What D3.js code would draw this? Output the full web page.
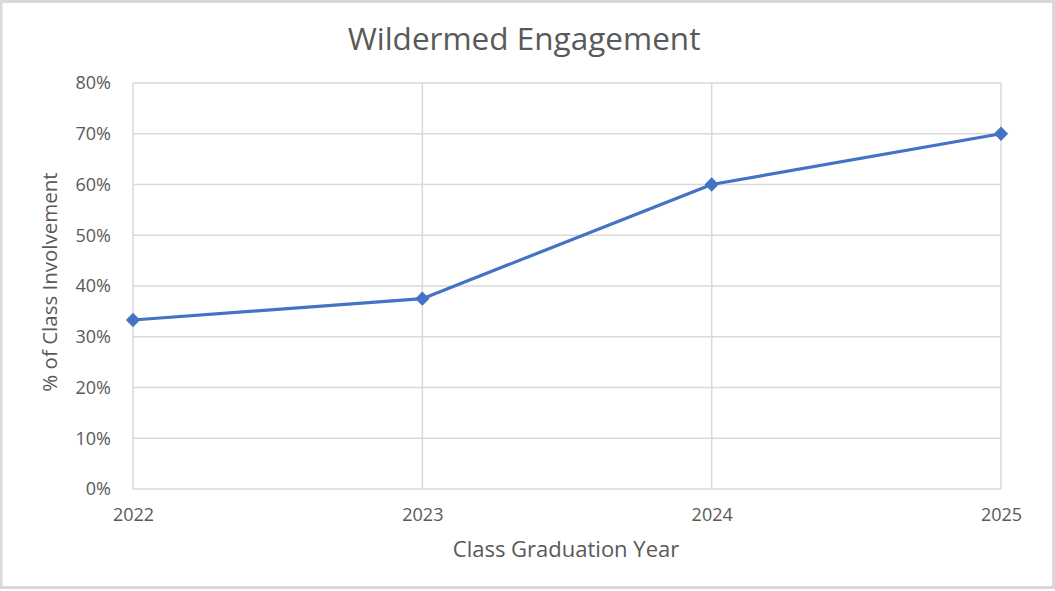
<!DOCTYPE html>
<html><head><meta charset="utf-8">
<script src="https://cdn.jsdelivr.net/npm/d3@7"></script>
<style>body{margin:0;background:#fff}svg{display:block}text{font-family:"Open Sans",sans-serif;fill:#595959}</style>
</head><body>
<script>
const years = ["2022", "2023", "2024", "2025"];
const involvement = [0.333, 0.375, 0.60, 0.70];
const yTicks = [0, 0.1, 0.2, 0.3, 0.4, 0.5, 0.6, 0.7, 0.8];
const title = "Wildermed Engagement";
const xTitle = "Class Graduation Year";
const yTitle = "% of Class Involvement";

const W = 1055, H = 591;
const m = {left: 133, right: 1001, top: 83, bottom: 489};
const svg = d3.select("body").append("svg").attr("width", W).attr("height", H);
svg.append("rect").attr("x", 1).attr("y", 1.5).attr("width", W - 2.5).attr("height", H - 5)
  .attr("fill", "#fff").attr("stroke", "#d9d9d9").attr("stroke-width", 3);

const x = d3.scalePoint().domain(years).range([m.left, m.right]);
const y = d3.scaleLinear().domain([0, 0.8]).range([m.bottom, m.top]);

svg.append("g").selectAll("line").data(yTicks).join("line")
  .attr("x1", m.left).attr("x2", m.right).attr("y1", d => y(d)).attr("y2", d => y(d))
  .attr("stroke", "#d9d9d9").attr("stroke-width", 1.5);
svg.append("g").selectAll("line").data(years).join("line")
  .attr("x1", d => x(d)).attr("x2", d => x(d)).attr("y1", m.top).attr("y2", m.bottom)
  .attr("stroke", "#d9d9d9").attr("stroke-width", 1.5);

const yAxis = d3.axisLeft(y).tickValues(yTicks).tickFormat(d3.format(".0%")).tickSize(0).tickPadding(22);
const gy = svg.append("g").attr("transform", `translate(${m.left},0)`).call(yAxis);
gy.select(".domain").remove();
gy.selectAll("text").style("font-size", "18px").attr("fill", "#595959").style("font-family", "Open Sans");

const xAxis = d3.axisBottom(x).tickSize(0).tickPadding(19);
const gx = svg.append("g").attr("transform", `translate(0,${m.bottom})`).call(xAxis);
gx.select(".domain").remove();
gx.selectAll("text").style("font-size", "18px").attr("fill", "#595959").style("font-family", "Open Sans");

const line = d3.line().x((d, i) => x(years[i])).y(d => y(d));
svg.append("path").datum(involvement).attr("d", line).attr("fill", "none")
  .attr("stroke", "#4472C4").attr("stroke-width", 3.2).attr("stroke-linejoin", "round");
svg.append("g").selectAll("path").data(involvement).join("path")
  .attr("d", d3.symbol(d3.symbolDiamond2, 130))
  .attr("transform", (d, i) => `translate(${x(years[i])},${y(d)})`)
  .attr("fill", "#4472C4");

svg.append("text").attr("x", 524).attr("y", 50).attr("text-anchor", "middle")
  .style("font-size", "31.5px").text(title);
svg.append("text").attr("x", 566).attr("y", 557).attr("text-anchor", "middle")
  .style("font-size", "22px").text(xTitle);
svg.append("text").attr("transform", "translate(57,282) rotate(-90)").attr("text-anchor", "middle")
  .style("font-size", "20.5px").text(yTitle);
</script>
</body></html>
